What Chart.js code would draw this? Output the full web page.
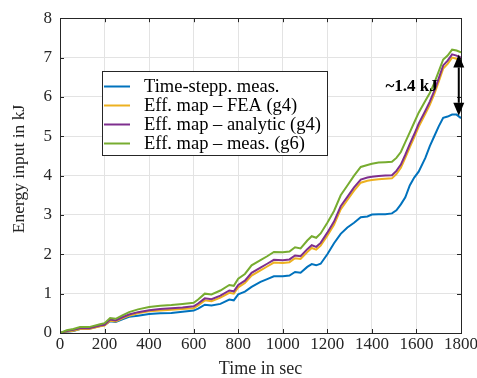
<!DOCTYPE html>
<html>
<head>
<meta charset="utf-8">
<script src="https://cdn.jsdelivr.net/npm/chart.js@4/dist/chart.umd.min.js"></script>
<style>
  html, body { margin: 0; padding: 0; background: #fff; }
  #wrap { width: 477px; height: 378px; }
</style>
</head>
<body>
<div id="wrap"><canvas id="c" width="477" height="378"></canvas></div>
<script>
// ---- data ----
const times = [0, 30, 60, 90, 130, 180, 200, 225, 250, 280, 310, 350, 400, 450, 500, 550, 600, 620, 650, 680, 720, 760, 780, 800, 830, 860, 900, 930, 960, 1000, 1030, 1055, 1080, 1110, 1130, 1150, 1170, 1200, 1230, 1260, 1290, 1320, 1350, 1380, 1400, 1430, 1460, 1490, 1510, 1530, 1550, 1570, 1590, 1610, 1640, 1660, 1680, 1700, 1720, 1740, 1760, 1780, 1800];
const timeStepMeas = [0, 0.03, 0.05, 0.1, 0.11, 0.18, 0.2, 0.3, 0.28, 0.35, 0.41, 0.44, 0.48, 0.5, 0.51, 0.54, 0.57, 0.62, 0.72, 0.7, 0.74, 0.85, 0.83, 0.98, 1.05, 1.17, 1.3, 1.37, 1.44, 1.44, 1.46, 1.55, 1.53, 1.68, 1.75, 1.72, 1.76, 2.0, 2.28, 2.52, 2.68, 2.8, 2.94, 2.96, 3.01, 3.02, 3.02, 3.04, 3.12, 3.27, 3.45, 3.75, 3.95, 4.1, 4.45, 4.75, 5.0, 5.25, 5.47, 5.5, 5.55, 5.55, 5.46];
const effMapFEA = [0, 0.04, 0.06, 0.1, 0.1, 0.17, 0.19, 0.31, 0.29, 0.37, 0.44, 0.5, 0.55, 0.57, 0.59, 0.61, 0.63, 0.7, 0.83, 0.81, 0.9, 1.02, 1.0, 1.16, 1.27, 1.46, 1.59, 1.69, 1.79, 1.78, 1.8, 1.9, 1.88, 2.06, 2.16, 2.12, 2.22, 2.47, 2.75, 3.14, 3.38, 3.62, 3.82, 3.87, 3.89, 3.91, 3.92, 3.93, 4.04, 4.2, 4.45, 4.72, 4.97, 5.24, 5.57, 5.8, 6.07, 6.39, 6.72, 6.84, 7.0, 6.97, 6.91];
const effMapAnalytic = [0, 0.05, 0.08, 0.12, 0.12, 0.19, 0.21, 0.34, 0.32, 0.4, 0.47, 0.53, 0.58, 0.61, 0.63, 0.65, 0.68, 0.75, 0.88, 0.86, 0.95, 1.08, 1.06, 1.22, 1.33, 1.53, 1.66, 1.76, 1.86, 1.85, 1.87, 1.97, 1.95, 2.13, 2.23, 2.19, 2.29, 2.55, 2.83, 3.22, 3.46, 3.7, 3.9, 3.95, 3.97, 3.99, 4.0, 4.01, 4.12, 4.28, 4.53, 4.8, 5.05, 5.32, 5.65, 5.88, 6.15, 6.47, 6.8, 6.92, 7.08, 7.05, 7.0];
const effMapMeas = [0, 0.07, 0.1, 0.15, 0.15, 0.22, 0.25, 0.38, 0.36, 0.45, 0.53, 0.6, 0.66, 0.69, 0.71, 0.74, 0.77, 0.85, 1.0, 0.98, 1.08, 1.22, 1.2, 1.38, 1.5, 1.72, 1.85, 1.95, 2.06, 2.05, 2.07, 2.18, 2.15, 2.35, 2.46, 2.42, 2.53, 2.8, 3.1, 3.5, 3.75, 4.0, 4.22, 4.27, 4.3, 4.33, 4.34, 4.35, 4.45, 4.6, 4.85, 5.1, 5.35, 5.6, 5.9, 6.1, 6.35, 6.65, 6.95, 7.05, 7.2, 7.18, 7.13];
const seriesLabels = ['Time-stepp. meas.', 'Eff. map \u2013 FEA (g4)', 'Eff. map \u2013 analytic (g4)', 'Eff. map \u2013 meas. (g6)'];
const xTicks = [0, 200, 400, 600, 800, 1000, 1200, 1400, 1600, 1800];
const yTicks = [0, 1, 2, 3, 4, 5, 6, 7, 8];
const arrowTime = 1790;
const arrowTop = 7.08;
const arrowBottom = 5.52;
const arrowLabel = '~1.4 kJ';

const colors = ['#0072BD', '#EDB120', '#7E2F8E', '#77AC30'];
const seriesData = [timeStepMeas, effMapFEA, effMapAnalytic, effMapMeas];
const FONT = "'Liberation Serif', 'Times New Roman', serif";
const TXT = '#262626';

const datasets = seriesData.map((vals, i) => ({
  label: seriesLabels[i],
  data: times.map((t, k) => ({ x: t, y: vals[k] })),
  borderColor: colors[i],
  backgroundColor: colors[i],
  borderWidth: 2,
  pointRadius: 0,
  tension: 0,
  fill: false,
  order: 3 - i
}));

const framePlugin = {
  id: 'frame',
  afterDatasetsDraw(chart) {
    const { ctx, chartArea: a, scales } = chart;
    ctx.save();
    ctx.strokeStyle = TXT;
    ctx.lineWidth = 1;
    const L = 4;
    ctx.beginPath();
    xTicks.forEach(v => {
      const px = Math.round(scales.x.getPixelForValue(v)) + 0.5;
      ctx.moveTo(px, a.bottom); ctx.lineTo(px, a.bottom - L);
      ctx.moveTo(px, a.top); ctx.lineTo(px, a.top + L);
    });
    yTicks.forEach(v => {
      const py = Math.round(scales.y.getPixelForValue(v)) + 0.5;
      ctx.moveTo(a.left, py); ctx.lineTo(a.left + L, py);
      ctx.moveTo(a.right, py); ctx.lineTo(a.right - L, py);
    });
    ctx.stroke();
    ctx.strokeRect(Math.round(a.left) + 0.5, Math.round(a.top) + 0.5, Math.round(a.right - a.left), Math.round(a.bottom - a.top));
    ctx.restore();
  },
  afterDraw(chart) {
    const { ctx, scales } = chart;
    ctx.save();
    // y axis title
    ctx.fillStyle = TXT;
    ctx.font = '17.5px ' + FONT;
    ctx.textAlign = 'center';
    ctx.textBaseline = 'middle';
    ctx.translate(19, 169);
    ctx.rotate(-Math.PI / 2);
    ctx.fillText('Energy input in kJ', 0, 0);
    ctx.setTransform(1, 0, 0, 1, 0, 0);

    // arrow annotation
    const ax = scales.x.getPixelForValue(arrowTime);
    const yt = scales.y.getPixelForValue(arrowTop);
    const yb = scales.y.getPixelForValue(arrowBottom);
    ctx.strokeStyle = '#000';
    ctx.fillStyle = '#000';
    ctx.lineWidth = 2;
    const head = 13, hw = 5.5;
    ctx.beginPath();
    ctx.moveTo(ax, yt + head); ctx.lineTo(ax, yb - head);
    ctx.stroke();
    ctx.beginPath();
    ctx.moveTo(ax, yt); ctx.lineTo(ax - hw, yt + head); ctx.lineTo(ax + hw, yt + head); ctx.closePath(); ctx.fill();
    ctx.beginPath();
    ctx.moveTo(ax, yb); ctx.lineTo(ax - hw, yb - head); ctx.lineTo(ax + hw, yb - head); ctx.closePath(); ctx.fill();
    ctx.font = 'bold 17px ' + FONT;
    ctx.textAlign = 'right';
    ctx.textBaseline = 'middle';
    ctx.fillText(arrowLabel, ax - 21, (yt + yb) / 2 + 2);

    // legend
    const lx = 102.5, ly = 71.5, lw = 225, lh = 84;
    ctx.fillStyle = '#fff';
    ctx.fillRect(lx, ly, lw, lh);
    ctx.strokeStyle = TXT;
    ctx.lineWidth = 1;
    ctx.strokeRect(lx, ly, lw, lh);
    ctx.font = '18.5px ' + FONT;
    ctx.textAlign = 'left';
    ctx.textBaseline = 'middle';
    const rows = [86.5, 105.5, 124.5, 143.5];
    seriesLabels.forEach((lab, i) => {
      ctx.strokeStyle = colors[i];
      ctx.lineWidth = 2;
      ctx.beginPath();
      ctx.moveTo(104, rows[i]); ctx.lineTo(130, rows[i]);
      ctx.stroke();
      ctx.fillStyle = '#000';
      ctx.fillText(lab, 144, rows[i] + 1);
    });
    ctx.restore();
  }
};

new Chart(document.getElementById('c'), {
  type: 'line',
  data: { datasets },
  options: {
    responsive: false,
    animation: false,
    layout: { padding: { left: 0, right: 16, top: 17, bottom: 0 } },
    plugins: { legend: { display: false }, tooltip: { enabled: false } },
    scales: {
      x: {
        type: 'linear',
        min: 0, max: 1800,
        afterBuildTicks(scale) { scale.ticks = xTicks.map(v => ({ value: v })); },
        afterFit(scale) { scale.height = 45; scale.paddingRight = 0; scale.paddingLeft = 0; },
        grid: { color: '#e3e3e3', lineWidth: 1, drawTicks: false },
        border: { display: false },
        ticks: { color: TXT, font: { family: FONT, size: 17 }, padding: 1, maxRotation: 0, autoSkip: false, callback: v => String(v) },
        title: { display: true, text: 'Time in sec', color: TXT, font: { family: FONT, size: 18, lineHeight: 1 }, padding: { top: 0, bottom: 0 } }
      },
      y: {
        type: 'linear',
        min: 0, max: 8,
        afterBuildTicks(scale) { scale.ticks = yTicks.map(v => ({ value: v })); },
        afterFit(scale) { scale.width = 60; },
        grid: { color: '#e3e3e3', lineWidth: 1, drawTicks: false },
        border: { display: false },
        ticks: { color: TXT, font: { family: FONT, size: 17 }, padding: 8, callback: v => String(v) },
        title: { display: false }
      }
    }
  },
  plugins: [framePlugin]
});
</script>
</body>
</html>
